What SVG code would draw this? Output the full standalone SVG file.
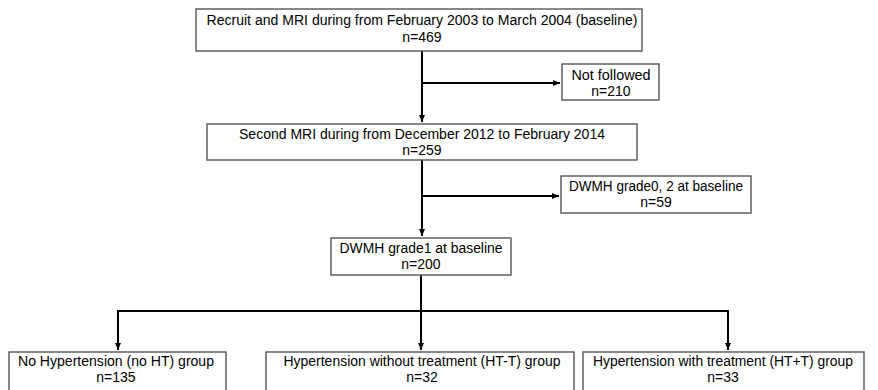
<svg xmlns="http://www.w3.org/2000/svg" width="878" height="390" viewBox="0 0 878 390">
<style>
.box{fill:#fff;stroke:#555;stroke-width:1.4}
.t{font-family:"Liberation Sans",Arial,sans-serif;font-size:14px;fill:#000;text-anchor:middle}
.c{fill:none;stroke:#000;stroke-width:2}
</style>
<defs>
<marker id="ah" markerWidth="8" markerHeight="8" viewBox="0 0 8 8" refX="7" refY="4" orient="auto" markerUnits="userSpaceOnUse">
<path d="M0,1 L7,4 L0,7 Z" fill="#000"/>
</marker>
</defs>
<rect width="878" height="390" fill="#fff"/>
<g id="connectors">
<path class="c" d="M422,51 V122" marker-end="url(#ah)"/>
<path class="c" d="M422,83 H560" marker-end="url(#ah)"/>
<path class="c" d="M422,160 V236" marker-end="url(#ah)"/>
<path class="c" d="M422,196 H559" marker-end="url(#ah)"/>
<path class="c" d="M421,275 V311"/>
<path class="c" d="M118,311 H728"/>
<path class="c" d="M118,310 V350" marker-end="url(#ah)"/>
<path class="c" d="M421,311 V350" marker-end="url(#ah)"/>
<path class="c" d="M728,310 V350" marker-end="url(#ah)"/>
</g>
<g id="n1">
<rect class="box" x="196" y="9" width="446" height="42"/>
<text class="t" x="422" y="25" textLength="431" lengthAdjust="spacingAndGlyphs">Recruit and MRI during from February 2003 to March 2004 (baseline)</text>
<text class="t" x="422" y="42">n=469</text>
</g>
<g id="n2">
<rect class="box" x="562" y="64" width="97" height="36"/>
<text class="t" x="611" y="80" textLength="79" lengthAdjust="spacingAndGlyphs">Not followed</text>
<text class="t" x="611" y="96">n=210</text>
</g>
<g id="n3">
<rect class="box" x="207" y="124" width="430" height="36"/>
<text class="t" x="422" y="139" textLength="366" lengthAdjust="spacingAndGlyphs">Second MRI during from December 2012 to February 2014</text>
<text class="t" x="422" y="155">n=259</text>
</g>
<g id="n4">
<rect class="box" x="561" y="176" width="190" height="37"/>
<text class="t" x="656" y="191" textLength="174" lengthAdjust="spacingAndGlyphs">DWMH grade0, 2 at baseline</text>
<text class="t" x="656" y="207">n=59</text>
</g>
<g id="n5">
<rect class="box" x="331" y="238" width="180" height="37"/>
<text class="t" x="421" y="253" textLength="163" lengthAdjust="spacingAndGlyphs">DWMH grade1 at baseline</text>
<text class="t" x="421" y="269">n=200</text>
</g>
<g id="n6">
<rect class="box" x="9" y="352" width="217" height="45"/>
<text class="t" x="116" y="366" textLength="196" lengthAdjust="spacingAndGlyphs">No Hypertension (no HT) group</text>
<text class="t" x="116" y="382">n=135</text>
</g>
<g id="n7">
<rect class="box" x="266" y="352" width="308" height="45"/>
<text class="t" x="422" y="366" textLength="277" lengthAdjust="spacingAndGlyphs">Hypertension without treatment (HT-T) group</text>
<text class="t" x="422" y="382">n=32</text>
</g>
<g id="n8">
<rect class="box" x="583" y="352" width="281" height="45"/>
<text class="t" x="723" y="366" textLength="260" lengthAdjust="spacingAndGlyphs">Hypertension with treatment (HT+T) group</text>
<text class="t" x="723" y="382">n=33</text>
</g>
</svg>
